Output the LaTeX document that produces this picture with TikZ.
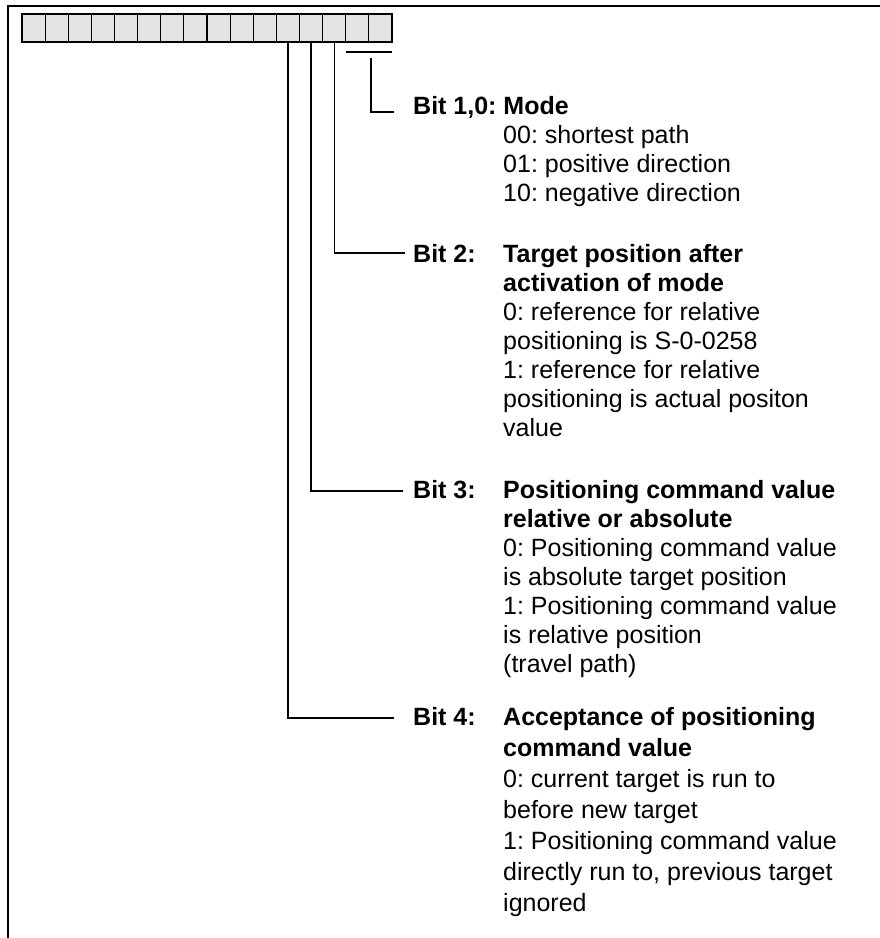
\documentclass[tikz,border=0pt]{standalone}
\usepackage{fontspec}
\setmainfont{Liberation Sans}
\begin{document}
\frenchspacing
\begin{tikzpicture}[x=1pt,y=-1pt,
  frame/.style={line width=2pt},
  bitbox/.style={draw, line width=1.1pt, fill=black!11, minimum width=23.125pt,
    minimum height=28pt, inner sep=0pt, outer sep=0pt},
  conn/.style={line width=1.2pt},
  bitlabel/.style={anchor=base west, inner sep=0pt,
    font=\fontsize{25}{29}\selectfont\bfseries},
  desc/.style={anchor=base west, inner sep=0pt,
    font=\fontsize{25}{29}\selectfont},
  widedesc/.style={anchor=base west, inner sep=0pt,
    font=\fontsize{25}{31}\selectfont}]
\useasboundingbox (0,0) rectangle (880,938);

% outer frame: top and left edges only
\draw[frame] (880,6) -- (7.5,6) -- (7.5,938);

% sixteen bit cells, bit 15 on the left, bit 0 on the right
\foreach \i in {0,...,15}{
  \pgfmathtruncatemacro{\b}{15-\i}
  \node[bitbox] (bit\b) at ({22+23.125*(\i+0.5)},28) {};
}

% bit 1,0: mode
\coordinate (mbarL) at (bit1.south west |- 0,52);
\coordinate (mbarR) at (bit0.south east |- 0,52);
\draw[conn] (mbarL) -- (mbarR);
\coordinate (mtop) at (371,58);
\coordinate (mend) at (394,112);
\draw[conn] (mtop) |- (mend);
\node[bitlabel] (l10) at (413,114) {Bit 1,0: Mode};
\node[desc] (d10) at (503,143) {\parbox[t]{360pt}{\raggedright
  00: shortest path\\
  01: positive direction\\
  10: negative direction}};

% bit 2
\coordinate (e2) at (405,253);
\draw[conn] (bit2.south) |- (e2);
\node[bitlabel] (l2) at (413,262) {Bit 2:};
\node[desc] (d2) at (503,262) {\parbox[t]{360pt}{\raggedright
  \textbf{Target position after}\\
  \textbf{activation of mode}\\
  0: reference for relative\\
  positioning is S-0-0258\\
  1: reference for relative\\
  positioning is actual positon\\
  value}};

% bit 3
\coordinate (e3) at (403,491);
\draw[conn] (bit3.south) |- (e3);
\node[bitlabel] (l3) at (413,498) {Bit 3:};
\node[desc] (d3) at (503,498) {\parbox[t]{360pt}{\raggedright
  \textbf{Positioning command value}\\
  \textbf{relative or absolute}\\
  0: Positioning command value\\
  is absolute target position\\
  1: Positioning command value\\
  is relative position\\
  (travel path)}};

% bit 4
\coordinate (e4) at (394,718);
\draw[conn] (bit4.south) |- (e4);
\node[bitlabel] (l4) at (413,725) {Bit 4:};
\node[widedesc] (d4) at (503,725) {\parbox[t]{360pt}{\raggedright
  \textbf{Acceptance of positioning}\\
  \textbf{command value}\\
  0: current target is run to\\
  before new target\\
  1: Positioning command value\\
  directly run to, previous target\\
  ignored}};
\end{tikzpicture}
\end{document}
